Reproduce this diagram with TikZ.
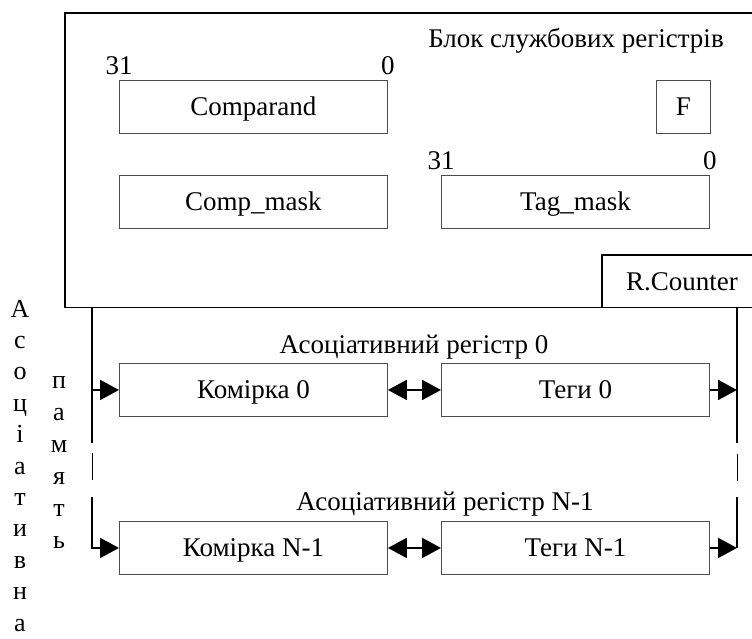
\documentclass[tikz,border=0pt]{standalone}
\usepackage{fontspec}
\setmainfont{Liberation Serif}
\usetikzlibrary{arrows.meta}
\tikzset{
  regbox/.style={draw=black!70, line width=0.9pt, inner sep=0pt, minimum width=268pt, minimum height=53pt, anchor=north west, font=\fontsize{27}{30}\selectfont, text height=17.8pt, text depth=0pt},
  bus/.style={draw=black, line width=2pt},
  tip/.style={-{Triangle[length=19pt,width=20pt]}, line width=2pt},
  dtip/.style={{Triangle[length=19pt,width=20pt]}-{Triangle[length=19pt,width=20pt]}, line width=2pt},
  lbl/.style={inner sep=0pt, anchor=base, font=\fontsize{27}{30}\selectfont},
  vlet/.style={inner sep=0pt, anchor=base, font=\fontsize{26}{30}\selectfont},
}
\begin{document}
\begin{tikzpicture}[x=1pt,y=-1pt]
\useasboundingbox (0,0) rectangle (752,639);
% main block
\draw[line width=1.4pt] (753,13) -- (65,13) -- (65,307.5) -- (753,307.5);
\node[lbl] (title) at (576,48) {Блок службових регістрів};
% registers
\node[regbox] (comp) at (119,80) {Comparand};
\node[regbox] (cmask) at (119,175) {Comp\_mask};
\node[regbox, minimum width=54pt] (F) at (656,80) {F};
\node[regbox] (tmask) at (441,175) {Tag\_mask};
\node[lbl] (c31) at ([yshift=5pt]comp.north west) [anchor=base] {31};
\node[lbl] (c0) at ([yshift=5pt]comp.north east) [anchor=base] {0};
\node[lbl] (t31) at ([yshift=5pt]tmask.north west) [anchor=base] {31};
\node[lbl] (t0) at ([yshift=5pt]tmask.north east) [anchor=base] {0};
% R.Counter
\draw[line width=1.8pt] (753,255) -- (602,255) -- (602,307.5);
\node[lbl] (rc) at (682,290) {R.Counter};
% associative registers
\node[lbl] (ar0) at (414,353) {Асоціативний регістр 0};
\node[regbox] (k0) at (119,363) {Комірка 0};
\node[regbox] (g0) at (441,363) {Теги 0};
\node[lbl] (arn) at (445,510) {Асоціативний регістр N-1};
\node[regbox] (kn) at (119,521) {Комірка N-1};
\node[regbox] (gn) at (441,521) {Теги N-1};
% buses
\coordinate (L0) at (92,308);
\coordinate (L1) at (92,443);
\coordinate (L2) at (92,453);
\coordinate (L3) at (92,480);
\coordinate (L4) at (92,497);
\coordinate (R0) at (737,308);
\coordinate (R1) at (737,443);
\coordinate (R2) at (737,454);
\coordinate (R3) at (737,481);
\coordinate (R4) at (737,497);
\draw[bus] (L0) -- (L1);
\draw[line width=1pt] (L2) -- (L3);
\draw[bus] (R0) -- (R1);
\draw[line width=1pt] (R2) -- (R3);
\draw[tip] (L4) |- (kn.west);
\draw[tip] (L0 |- k0.west) -- (k0.west);
\draw[tip] (g0.east) -- (R0 |- g0.east);
\draw[bus] (R4) -- (R4 |- gn.east);
\draw[tip] (gn.east) -- (R4 |- gn.east);
\draw[dtip] (k0.east) -- (g0.west);
\draw[dtip] (kn.east) -- (gn.west);
% vertical words
\foreach \ch [count=\i from 0] in {А,с,о,ц,і,а,т,и,в,н,а}
  \node[vlet] (v\i) at (20,317+31.4*\i) {\ch};
\foreach \ch [count=\i from 0] in {п,а,м,я,т,ь}
  \node[vlet] (w\i) at (59,388+32*\i) {\ch};
\end{tikzpicture}
\end{document}
